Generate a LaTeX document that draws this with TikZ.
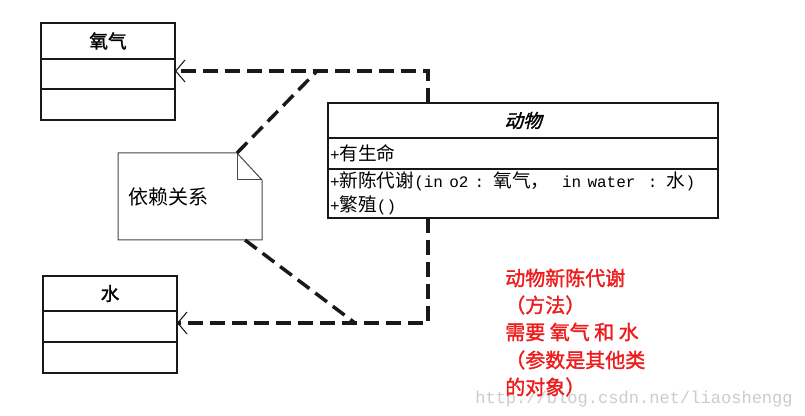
\documentclass[tikz,border=0pt]{standalone}
\usepackage{fontspec}
\setmainfont{Liberation Serif}
\newfontfamily\cjk{Noto Sans CJK SC}
\newfontfamily\cjkb[FakeBold=1.5]{Noto Sans CJK SC}
\newfontfamily\cjkbi[FakeBold=1.5,FakeSlant=0.25]{Noto Sans CJK SC}
\newfontfamily\redf[FakeBold=1.5]{Noto Sans CJK SC}
\newfontfamily\mono{Liberation Mono}
\newcommand\latinpart[1]{{\mono\fontsize{12pt}{18pt}\selectfont#1}}
\usetikzlibrary{arrows.meta,calc}
\definecolor{ink}{RGB}{25,25,25}
\definecolor{notegray}{RGB}{70,70,70}
\definecolor{redtxt}{RGB}{238,28,28}
\begin{document}
\begin{tikzpicture}[x=0.75pt,y=-0.75pt,
  cls/.style={draw=ink,line width=0.9pt,inner sep=0pt,outer sep=0pt,minimum width=100.5pt},
  wide/.style={cls,minimum width=292.5pt},
  member/.style={font=\cjk\fontsize{14pt}{18pt}\selectfont,text width=289.5pt,align=left,inner xsep=1.5pt},
  head/.style={font=\cjkb\fontsize{14pt}{16pt}\selectfont},
  dep/.style={draw=ink,line width=2.6pt,dash pattern=on 11pt off 5.5pt},
  deparrow/.style={dep,-{Straight Barb[length=7pt,width=16.5pt,line width=0.8pt]}},
  notestyle/.style={draw=notegray,line width=0.75pt,line join=miter},
  redline/.style={anchor=base west,inner sep=0pt,text=redtxt,font=\redf\fontsize{15pt}{18pt}\selectfont}]
\path[fill=white] (0,0) rectangle (805,416);
\useasboundingbox (0,0) rectangle (805,416);

% oxygen class
\node[cls,head,minimum height=27pt] (oxh) at (108,41) {氧气};
\node[cls,minimum height=22.5pt,anchor=north] (oxm) at (oxh.south) {};
\node[cls,minimum height=23.25pt,anchor=north] (oxb) at (oxm.south) {};

% water class
\node[cls,head,minimum height=26.25pt] (wah) at (110,293.5) {水};
\node[cls,minimum height=23.25pt,anchor=north] (wam) at (wah.south) {};
\node[cls,minimum height=23.25pt,anchor=north] (wab) at (wam.south) {};

% animal class
\node[wide,font=\cjkbi\fontsize{14pt}{16pt}\selectfont,minimum height=26.25pt] (anh) at (523,120.5) {动物};
\node[wide,member,minimum height=23.25pt,anchor=north] (ana) at (anh.south) {\latinpart{+}有生命};
\node[wide,member,minimum height=36.75pt,anchor=north] (ano) at (ana.south)
  {\latinpart{+}新陈代谢\latinpart{(in o2 : }氧气，\latinpart{~ in water~ : }水\latinpart{)}\\\latinpart{+}繁殖\latinpart{()}};

% note
\node[font=\cjk\fontsize{15pt}{18pt}\selectfont,minimum width=108pt,minimum height=65.25pt,
  inner xsep=7.5pt,text width=93pt,align=left,outer sep=0pt] (note) at (190,196.5) {依赖关系};
\draw[notestyle] (note.north west) -- ($(note.north east)+(-25,0)$) -- ($(note.north east)+(0,27)$)
  -- (note.south east) -- (note.south west) -- cycle;
\draw[notestyle] ($(note.north east)+(-25,0)$) -- ($(note.north east)+(-25,27)$) -- ($(note.north east)+(0,27)$);

% connectors
\coordinate (j1) at (317,71);
\coordinate (j2) at (355,323);
\draw[deparrow] ($(anh.north west)+(100,0)$) |- (oxm.east |- j1);
\draw[dep] ($(note.north east)+(-25,0)$) -- (j1);
\draw[deparrow] ($(ano.south west)+(100,0)$) |- (wam.east |- j2);
\draw[dep] ($(note.south east)+(-17,0)$) -- (j2);

% watermark
\node[anchor=base west,inner sep=0pt,text=gray!40,font=\mono\fontsize{12.8pt}{14pt}\selectfont] (wm) at (475,403) {http://blog.csdn.net/liaoshengg};

% red annotation
\node[redline] (r1) at (505,285.6) {动物新陈代谢};
\node[redline] (r2) at (505,312.6) {（方法）};
\node[redline] (r3) at (505,339.6) {需要 氧气 和 水};
\node[redline] (r4) at (505,367.6) {（参数是其他类};
\node[redline] (r5) at (505,394.6) {的对象）};
\end{tikzpicture}
\end{document}
